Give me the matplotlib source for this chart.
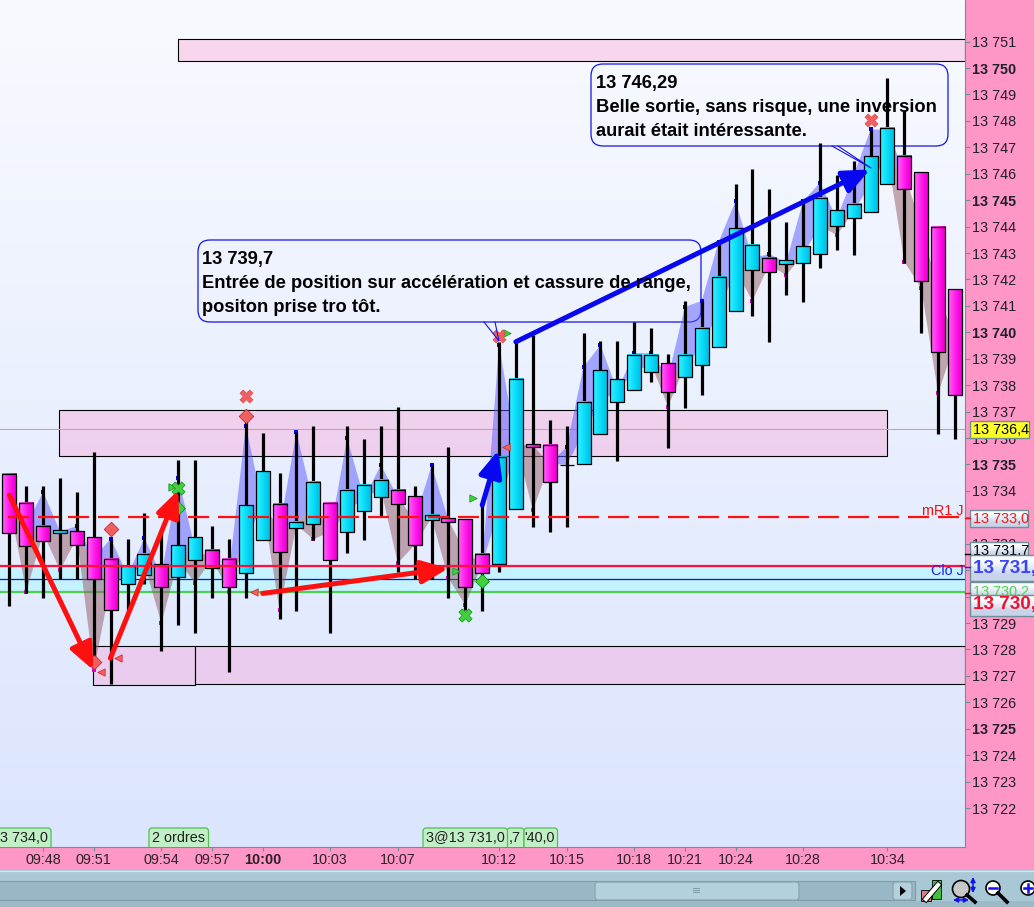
import numpy as np
import matplotlib
matplotlib.use("Agg")
import matplotlib.pyplot as plt
from matplotlib.patches import Rectangle, FancyBboxPatch, Circle, Polygon

plt.rcParams['font.family'] = ['Liberation Sans', 'DejaVu Sans']
plt.rcParams['lines.scale_dashes'] = False

W, H = 1034, 907

# candles
opens = [13734.63, 13733.53, 13732.69, 13732.41, 13732.47, 13732.24, 13731.44, 13730.46, 13730.80, 13731.22,
         13730.76, 13731.37, 13731.78, 13731.44, 13730.88, 13732.16, 13733.49, 13732.58, 13732.73, 13733.53,
         13732.43, 13733.22, 13733.75, 13734.05, 13733.79, 13732.88, 13732.96, 13732.92, 13731.63, 13731.25,
         13733.30, 13735.76, 13735.72, 13734.99, 13735.00, 13736.17, 13737.38, 13737.80, 13738.48, 13738.82,
         13738.29, 13738.75, 13739.43, 13740.79, 13742.34, 13742.83, 13742.57, 13742.64, 13742.95, 13744.01,
         13744.31, 13744.57, 13745.60, 13746.66, 13746.05, 13743.97, 13741.62]
highs = [13734.63, 13734.18, 13734.18, 13734.48, 13733.95, 13735.47, 13732.14, 13732.17, 13733.16, 13732.51,
         13735.16, 13735.16, 13732.67, 13732.17, 13736.99, 13736.19, 13734.67, 13736.22, 13736.45, 13733.53,
         13736.44, 13735.95, 13736.44, 13737.16, 13734.18, 13734.97, 13735.66, 13732.92, 13733.46, 13739.64,
         13739.67, 13739.89, 13736.68, 13736.44, 13739.96, 13739.67, 13739.67, 13740.39, 13740.16, 13739.17,
         13741.17, 13741.18, 13743.42, 13745.63, 13746.16, 13745.44, 13744.16, 13745.00, 13747.15, 13745.94,
         13746.47, 13747.65, 13749.64, 13748.41, 13746.05, 13743.97, 13741.62]
lows = [13729.65, 13730.13, 13729.95, 13730.66, 13730.66, 13727.60, 13726.69, 13729.46, 13730.47, 13727.95,
        13728.93, 13728.63, 13729.95, 13727.15, 13729.95, 13732.16, 13729.16, 13729.46, 13732.14, 13728.63,
        13731.66, 13732.15, 13733.00, 13730.94, 13730.67, 13730.65, 13729.95, 13729.49, 13729.46, 13730.94,
        13733.30, 13732.64, 13732.45, 13732.64, 13735.00, 13736.17, 13735.14, 13737.80, 13738.13, 13735.63,
        13737.14, 13737.63, 13739.43, 13740.79, 13740.62, 13739.64, 13741.42, 13741.15, 13742.44, 13743.12,
        13742.93, 13744.57, 13745.60, 13742.63, 13739.96, 13736.17, 13735.95]
closes = [13732.39, 13731.90, 13732.11, 13732.51, 13731.97, 13730.67, 13729.48, 13731.16, 13731.60, 13730.35,
          13731.94, 13732.24, 13731.07, 13730.35, 13733.45, 13734.77, 13731.67, 13732.84, 13734.32, 13731.37,
          13734.02, 13734.24, 13734.40, 13733.49, 13731.97, 13733.07, 13732.84, 13730.38, 13730.88, 13735.30,
          13738.22, 13735.67, 13734.32, 13734.99, 13737.38, 13738.56, 13738.22, 13739.16, 13739.16, 13737.76,
          13739.16, 13740.15, 13742.11, 13743.93, 13743.29, 13742.30, 13742.72, 13743.25, 13745.10, 13744.61,
          13744.84, 13746.66, 13747.72, 13745.41, 13741.93, 13739.24, 13737.61]

# swing shading: bar index and tip price
up_bars = [2, 4, 6, 8, 10, 14, 17, 20, 22, 25, 29, 33, 34, 35, 37, 38, 40, 41, 42, 43, 45, 47, 48, 50, 51, 52]
up_tips = [13733.96, 13732.67, 13732.19, 13732.21, 13734.48, 13736.46, 13736.22, 13736.00, 13734.97, 13734.97,
           13739.52, 13735.67, 13738.69, 13739.52, 13739.21, 13739.21, 13740.96, 13741.19, 13743.42, 13744.96,
           13742.96, 13744.96, 13745.66, 13745.95, 13747.68, 13747.65]
down_bars = [1, 3, 5, 9, 11, 13, 16, 18, 23, 24, 26, 27, 31, 39, 44, 46, 49, 53, 54, 55]
down_tips = [13730.18, 13731.00, 13727.22, 13729.00, 13730.51, 13730.18, 13729.49, 13732.17, 13731.27, 13731.95,
             13730.70, 13729.68, 13733.27, 13737.18, 13741.19, 13742.16, 13743.68, 13742.67, 13741.67, 13737.69]

# zones
zone_from = [9.99, 2.94, 4.95, 10.99]
zone_to = [56.6, 51.98, 10.99, 56.6]
zone_low = [13750.28, 13735.33, 13726.67, 13726.70]
zone_high = [13751.08, 13737.06, 13728.13, 13728.13]

last_line = 13736.33
mr1_level = 13733.0
clo_level = 13730.65
red_level = 13731.16
green_level = 13730.17

# drawn arrows: bar, price at tail then tip
red_arrows = [(0.0, 13733.84, 4.97, 13727.22), (5.98, 13727.67, 10.0, 13734.03), (15.0, 13730.12, 25.99, 13731.07)]
blue_arrows = [(28.0, 13733.46, 28.96, 13735.54), (29.99, 13739.64, 50.96, 13746.16)]

# order markers
red_x = ([14, 29, 51], [13737.59, 13739.86, 13748.03])
red_diamond = ([14, 6, 5], [13736.83, 13732.55, 13727.52])
green_x = ([10, 27], [13734.10, 13729.30])
green_diamond = ([10, 28], [13733.35, 13730.58])
red_left = ([5.43, 6.43, 14.48, 29.41], [13727.14, 13727.67, 13730.17, 13735.66])
green_right = ([27.45, 29.47, 9.62, 26.45], [13733.73, 13739.97, 13734.14, 13730.96])

price_ticks = list(range(13722, 13752))
hidden_prices = [13733, 13731, 13730]
time_bars = [2, 5, 9, 12, 15, 19, 23, 29, 33, 37, 40, 43, 47, 52]
time_labels = ["09:48", "09:51", "09:54", "09:57", "10:00", "10:03", "10:07", "10:12", "10:15", "10:18",
               "10:21", "10:24", "10:28", "10:34"]

fig = plt.figure(figsize=(W / 100, H / 100), dpi=100, facecolor="#ff97c6")
ax = fig.add_axes([0, 60 / H, 965 / W, 847 / H])
chrome = fig.add_axes([0, 0, 1, 1], zorder=5)
chrome.set_xlim(0, W)
chrome.set_ylim(H, 0)
chrome.set_axis_off()

x = np.arange(len(opens))
o = np.array(opens)
c = np.array(closes)
mid = (o + c) / 2
xmin, xmax = -0.557, 56.59
ymin, ymax = 13720.526, 13752.573

# background gradient
grad = np.linspace(0, 1, 256)[:, None, None] * (np.array([219, 229, 254]) - np.array([248, 250, 255])) + np.array([248, 250, 255])
ax.imshow(grad / 255, extent=[xmin, xmax, ymin, ymax], aspect="auto", zorder=0)

# band and levels
ax.axhspan(green_level, red_level, facecolor="#c4f2ff", lw=0, zorder=0.5)
ax.axhline(clo_level, color="#1010e0", lw=0.9, zorder=0.6)
ax.axhline(green_level, color="#50d050", lw=1.6, zorder=0.6)
ax.axhline(last_line, color="#dc9a9a", lw=0.8, zorder=1.6)

for i in range(len(zone_from)):
    ax.add_patch(Rectangle((zone_from[i], zone_low[i]), zone_to[i] - zone_from[i], zone_high[i] - zone_low[i],
                           facecolor=(1.0, 0.55, 0.8, 0.3), edgecolor="black", lw=0.8, zorder=1))

# swings
up = mid.copy()
up[up_bars] = up_tips
down = mid.copy()
down[down_bars] = down_tips
ax.fill_between(x, mid, up, where=up > mid, color="#5a5aff", alpha=0.5, lw=0, zorder=2, interpolate=True)
ax.fill_between(x, mid, down, where=down < mid, color="#945a64", alpha=0.5, lw=0, zorder=2, interpolate=True)
ax.scatter(up_bars, up_tips, marker="s", s=7, color="#0000e0", lw=0, zorder=2.2)
ax.scatter(down_bars, down_tips, marker="s", s=5, color="#e000d0", lw=0, zorder=2.2)

# candles
bw = 14 / 16.886
ax.vlines(x, lows, highs, color="black", lw=2.3, zorder=3)
is_up = c >= o
pink = np.array([[[255, 80, 245], [255, 30, 235], [245, 0, 215]]]) / 255
cyan = np.array([[[40, 235, 255], [10, 220, 250], [0, 195, 230]]]) / 255
for i in x:
    lo, hi = min(o[i], c[i]), max(o[i], c[i])
    ax.imshow(cyan if is_up[i] else pink, extent=[i - bw / 2, i + bw / 2, lo, hi], aspect="auto",
              interpolation="bilinear", zorder=3.1)
ax.bar(x, np.abs(c - o), bottom=np.minimum(o, c), width=bw, facecolor="none", edgecolor="black", lw=0.9, zorder=3.2)

ax.axhline(red_level, color="#ff1038", lw=1.6, zorder=3.5)
ax.plot([-0.08, xmax], [mr1_level, mr1_level], color="#ff1010", lw=1.6, dashes=(15.1, 6.5), dash_capstyle="butt", zorder=3.5)

ax.scatter(*red_left, marker="<", s=28, color="#f06060", edgecolor="#d02020", lw=0.5, zorder=4)
ax.scatter(*green_right, marker=">", s=28, color="#40d040", edgecolor="#109010", lw=0.5, zorder=4)
ax.scatter(*red_x, marker="X", s=90, color="#f06060", edgecolor="#e04040", lw=0.4, zorder=4)
ax.scatter(*red_diamond, marker="D", s=55, color="#f06060", edgecolor="#c03030", lw=0.6, zorder=4)
ax.scatter(*green_x, marker="X", s=90, color="#40d040", edgecolor="#109010", lw=0.5, zorder=4)
ax.scatter(*green_diamond, marker="D", s=50, color="#40d040", edgecolor="#109010", lw=0.6, zorder=4)

for (x0, y0, x1, y1) in red_arrows:
    ax.annotate("", xy=(x1, y1), xytext=(x0, y0), zorder=5,
                arrowprops=dict(arrowstyle="-|>,head_length=1.6,head_width=0.7", color="#ff1010", lw=3.6, shrinkA=0, shrinkB=0))
for (x0, y0, x1, y1) in blue_arrows:
    ax.annotate("", xy=(x1, y1), xytext=(x0, y0), zorder=5,
                arrowprops=dict(arrowstyle="-|>,head_length=1.6,head_width=0.7", color="#0808f0", lw=3.6, shrinkA=0, shrinkB=0))


def callout(x0, y0, x1, y1, tip, base0, base1, lines):
    ax.add_patch(FancyBboxPatch((x0, y0), x1 - x0, y1 - y0, boxstyle="round,pad=0,rounding_size=12",
                                transform=chrome.transData, facecolor="none", edgecolor="#1414e6", lw=0.9, zorder=1.8))
    ax.plot([base0, tip[0], base1], [y1, tip[1], y1], transform=chrome.transData, color="#1414e6", lw=0.8, zorder=4.5)
    for n, line in enumerate(lines):
        ax.text(x0 + 4.5, y0 + 19.5 + n * 24, line, transform=chrome.transData, fontsize=13.2, fontweight="bold",
                va="center", ha="left", color="black", zorder=6)


callout(198, 240, 701, 322, (499, 341), 484, 495,
        ["13 739,7", "Entrée de position sur accélération et cassure de range,", "positon prise tro tôt."])
callout(591, 64, 948, 146, (871, 168), 832, 838,
        ["13 746,29", "Belle sortie, sans risque, une inversion", "aurait était intéressante."])

ax.set_xlim(xmin, xmax)
ax.set_ylim(ymin, ymax)
for s in ["top", "left"]:
    ax.spines[s].set_visible(False)
ax.spines["right"].set_color("#6f9098")
ax.spines["bottom"].set_color("#6f9098")

ax.yaxis.tick_right()
ax.set_yticks(price_ticks)
ax.set_yticklabels(["" if p in hidden_prices else f"{p:,}".replace(",", " ") for p in price_ticks],
                   fontsize=10.4, color="#20202c")
for p, lab in zip(price_ticks, ax.get_yticklabels()):
    if p % 5 == 0:
        lab.set_fontweight("bold")
ax.tick_params(axis="y", length=3.5, width=0.8, color="#6f9098", pad=1.5)
ax.set_xticks(time_bars)
ax.set_xticklabels(time_labels, fontsize=10.4, color="#30202c")
ax.get_xticklabels()[4].set_fontweight("bold")
ax.tick_params(axis="x", length=3, width=0.8, color="#6f9098", pad=1.5)

# level names at the right edge
chrome.text(964, 511, "mR1 J", color="#f01010", fontsize=10.4, ha="right", va="center")
chrome.text(964, 571, "Clo J", color="#2020f0", fontsize=10.4, ha="right", va="center")
for yy, col in [(517.7, "#f01010"), (554, "black"), (566.7, "#2020f0"), (592.7, "#f01010")]:
    chrome.plot([965, 970], [yy, yy], color=col, lw=1)


def price_box(x0, y0, x1, y1, label, color, face=None, size=10.4, weight="normal", ty=None):
    if face is None:
        shade = np.array([[[250, 252, 255]], [[200, 212, 234]]]) / 255
        chrome.imshow(shade, extent=[x0, x1, y1, y0], aspect="auto", interpolation="bilinear", zorder=1)
        chrome.add_patch(Rectangle((x0, y0), x1 - x0, y1 - y0, facecolor="none", edgecolor="#6f9098", lw=1, zorder=1))
    else:
        chrome.add_patch(Rectangle((x0, y0), x1 - x0, y1 - y0, facecolor=face, edgecolor="#6f9098", lw=1, zorder=1))
    if ty is None:
        ty = (y0 + y1) / 2 + 0.5
    t = chrome.text(x0 + 3, ty, label, color=color, fontsize=size, fontweight=weight, ha="left", va="center", zorder=1)
    t.set_clip_path(Rectangle((x0, y0), W - x0, y1 - y0, transform=chrome.transData))


price_box(970, 421, 1029, 438, "13 736,4", "black", face="#ffff28")
price_box(970, 510, 1028, 527, "13 733,0", "#f01818")
price_box(970, 542, 1028, 558, "13 731,7", "black", ty=551)
price_box(970, 582, 1040, 600, "13 730,2", "#50d050", ty=591.5)
price_box(970, 555, 1040, 581, "13 731,", "#3a46f5", size=13.6, weight="bold", ty=568)
price_box(970, 595, 1040, 616, "13 730,", "#f01030", size=13.6, weight="bold", ty=605)
chrome.set_xlim(0, W)
chrome.set_ylim(H, 0)

# order tags above the time axis
tag_x0 = [-8, 149, 507, 524, 423]
tag_x1 = [51, 208.5, 524, 557.5, 507.5]
tag_text = ["3 734,0", "2 ordres", ",7", "'40,0", "3@13 731,0"]
tag_clip = Rectangle((0, 0), W, 847, transform=chrome.transData)
for a, b, s in zip(tag_x0, tag_x1, tag_text):
    tag = FancyBboxPatch((a, 828), b - a, 25, boxstyle="round,pad=0,rounding_size=3",
                         facecolor="#c2f0c6", edgecolor="#50c050", lw=0.9)
    chrome.add_patch(tag)
    tag.set_clip_path(tag_clip)
    chrome.text(b - 3, 837.5, s, fontsize=10.4, ha="right", va="center", color="#202020")

# toolbar strip
chrome.add_patch(Rectangle((0, 870), W, 37, facecolor="#a9c8d5", edgecolor="none"))
chrome.plot([0, W], [870.5, 870.5], color="#d8e6ec", lw=1)
chrome.add_patch(Rectangle((-2, 881), 917, 19, facecolor="#99b8c5", edgecolor="#7f9aa5", lw=0.8))
chrome.add_patch(Rectangle((0, 900.5), W, 7, facecolor="#9bbac7", edgecolor="none"))
chrome.add_patch(FancyBboxPatch((595, 882), 204, 18, boxstyle="round,pad=0,rounding_size=3",
                                facecolor="#b2d1dd", edgecolor="#8aa4ae", lw=0.9))
for yy in [888, 890, 892]:
    chrome.plot([693, 699], [yy, yy], color="#7f98a2", lw=0.7)
chrome.add_patch(FancyBboxPatch((893, 882), 19, 18, boxstyle="round,pad=0,rounding_size=3",
                                facecolor="#b2d1dd", edgecolor="#8aa4ae", lw=0.9))
chrome.add_patch(Polygon([[900, 886], [906, 891], [900, 896]], facecolor="black", edgecolor="none"))

# toolbar icons
chrome.add_patch(Rectangle((921, 890), 10, 11, facecolor="#d88080", edgecolor="black", lw=0.6))
chrome.add_patch(Rectangle((932, 880), 9, 19, facecolor="#40c040", edgecolor="black", lw=0.6))
chrome.plot([926, 938], [899, 885], color="black", lw=4.4)
chrome.plot([926, 938], [899, 885], color="white", lw=3)
chrome.add_patch(Circle((961, 889), 8.5, facecolor="#c8c8c8", edgecolor="black", lw=1.2))
chrome.plot([967, 975], [895, 902], color="black", lw=2.6)
chrome.annotate("", xy=(973, 877), xytext=(973, 893), arrowprops=dict(arrowstyle="<|-|>", color="#1010f0", lw=1.1, shrinkA=0, shrinkB=0, mutation_scale=7))
chrome.annotate("", xy=(953, 900), xytext=(969, 900), arrowprops=dict(arrowstyle="<|-|>", color="#1010f0", lw=1.1, shrinkA=0, shrinkB=0, mutation_scale=7))
chrome.add_patch(Circle((993, 888), 7, facecolor="white", edgecolor="black", lw=1.2))
chrome.plot([989, 997], [888, 888], color="#1010f0", lw=1.8)
chrome.plot([998, 1007], [893, 902], color="black", lw=2.6)
chrome.add_patch(Circle((1028, 888), 7, facecolor="white", edgecolor="black", lw=1.2))
chrome.plot([1024, 1032], [888, 888], color="#1010f0", lw=1.8)
chrome.plot([1028, 1028], [884, 892], color="#1010f0", lw=1.8)

chrome.set_xlim(0, W)
chrome.set_ylim(H, 0)
fig.savefig("out.png", dpi=100, facecolor=fig.get_facecolor())
